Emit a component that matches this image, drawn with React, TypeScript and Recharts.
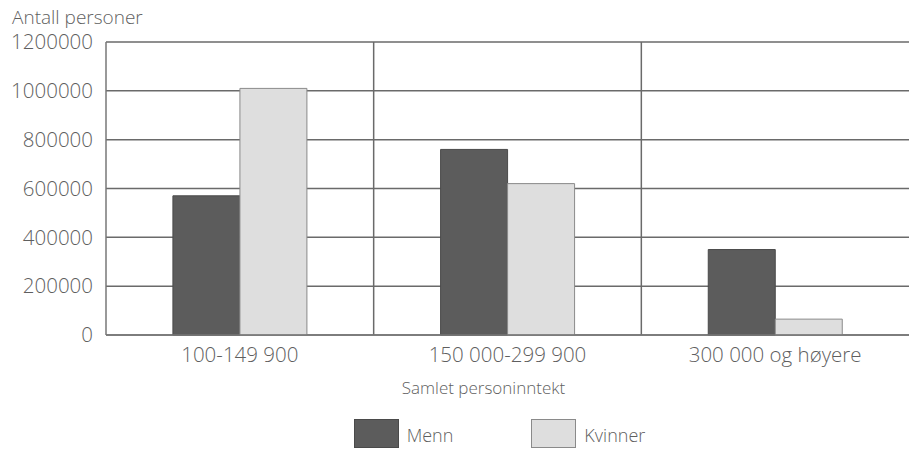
import React from 'react';
import { BarChart, Bar, XAxis, YAxis, CartesianGrid, Legend } from 'recharts';

const categories = ['100-149 900', '150 000-299 900', '300 000 og høyere'];
const menn = [570000, 760000, 350000];
const kvinner = [1010000, 620000, 65000];
const yTicks = [0, 200000, 400000, 600000, 800000, 1000000, 1200000];

const data = categories.map((c, i) => ({ name: c, Menn: menn[i], Kvinner: kvinner[i] }));

const FONT = '"Open Sans", "DejaVu Sans", sans-serif';
const TEXT = '#5f5f5f';

const LegendContent = () => (
  <div style={{ display: 'flex', justifyContent: 'center', alignItems: 'center', fontFamily: FONT, fontWeight: 300, color: TEXT, fontSize: 18, height: 30, paddingLeft: 80, boxSizing: 'border-box' }}>
    <div style={{ display: 'flex', alignItems: 'center', marginRight: 78 }}>
      <div style={{ width: 45, height: 29, background: '#5c5c5c', border: '1px solid #4a4a4a', boxSizing: 'border-box', marginRight: 8 }} />
      <span style={{ marginTop: 4 }}>Menn</span>
    </div>
    <div style={{ display: 'flex', alignItems: 'center' }}>
      <div style={{ width: 45, height: 29, background: '#dedede', border: '1px solid #8a8a8a', boxSizing: 'border-box', marginRight: 8 }} />
      <span style={{ marginTop: 4 }}>Kvinner</span>
    </div>
  </div>
);

export default function App() {
  return (
    <div style={{ position: 'absolute', left: 0, top: 0, width: 919, height: 450, background: '#fff' }}>
      <div style={{ position: 'absolute', left: 12, top: 4, fontFamily: FONT, fontWeight: 300, fontSize: 19, color: TEXT }}>
        Antall personer
      </div>
      <BarChart
        width={919}
        height={450}
        data={data}
        margin={{ top: 42, right: 10, left: 10, bottom: 25 }}
        barCategoryGap="25%"
        barGap={0}
      >
        <CartesianGrid
          stroke="#6a6a6a"
          strokeWidth={1.5}
          horizontal={true}
          vertical={true}
          verticalCoordinatesGenerator={({ offset }: any) => [
            offset.left + offset.width / 3,
            offset.left + (2 * offset.width) / 3,
          ]}
        />
        <XAxis
          dataKey="name"
          axisLine={{ stroke: '#777', strokeWidth: 1.5 }}
          tickLine={false}
          tickMargin={6}
          height={60}
          tick={{ fill: TEXT, fontSize: 20.5, fontFamily: FONT, fontWeight: 300 }}
          label={{ value: 'Samlet personinntekt', position: 'insideBottom', offset: 1, dx: -24, fill: TEXT, fontSize: 17, fontFamily: FONT, fontWeight: 300 }}
        />
        <YAxis
          width={96}
          domain={[0, 1200000]}
          ticks={yTicks}
          interval={0}
          axisLine={{ stroke: '#777', strokeWidth: 1.5 }}
          tickLine={false}
          tickMargin={7}
          tick={{ fill: TEXT, fontSize: 20.5, fontFamily: FONT, fontWeight: 300 }}
        />
        <Legend verticalAlign="bottom" content={LegendContent} wrapperStyle={{ top: 418, left: 0, width: 919 }} />
        <Bar dataKey="Menn" fill="#5c5c5c" stroke="#4a4a4a" strokeWidth={1} isAnimationActive={false} />
        <Bar dataKey="Kvinner" fill="#dedede" stroke="#8a8a8a" strokeWidth={1} isAnimationActive={false} />
      </BarChart>
    </div>
  );
}
